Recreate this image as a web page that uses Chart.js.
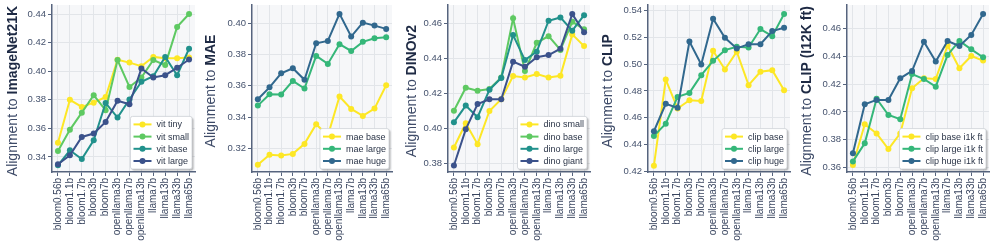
<!DOCTYPE html>
<html>
<head>
<meta charset="utf-8">
<script src="https://cdn.jsdelivr.net/npm/chart.js@4.4.0/dist/chart.umd.min.js"></script>
<style>
html, body { margin: 0; padding: 0; background: #fff; }
#wrap { position: relative; width: 996px; height: 251px; }
.panel { position: absolute; top: 0; height: 251px; }
</style>
</head>
<body>
<div id="wrap">
  <div class="panel" style="left:0px"><canvas id="c1" width="198" height="251"></canvas></div>
  <div class="panel" style="left:198px"><canvas id="c2" width="197" height="251"></canvas></div>
  <div class="panel" style="left:395px"><canvas id="c3" width="198" height="251"></canvas></div>
  <div class="panel" style="left:593px"><canvas id="c4" width="200" height="251"></canvas></div>
  <div class="panel" style="left:793px"><canvas id="c5" width="199" height="251"></canvas></div>
</div>
<script>
// language models on the x axis
const models = ['bloom0.56b', 'bloom1.1b', 'bloom1.7b', 'bloom3b', 'bloom7b', 'openllama3b',
    'openllama7b', 'openllama13b', 'llama7b', 'llama13b', 'llama33b', 'llama65b'];

// ImageNet21K
const vitTiny  = [0.350, 0.380, 0.375, 0.378, 0.382, 0.408, 0.406, 0.4035, 0.410, 0.409, 0.409, 0.4095];
const vitSmall = [0.3442, 0.359, 0.371, 0.3832, 0.3727, 0.4078, 0.389, 0.3956, 0.4078, 0.4043, 0.431, 0.440];
const vitBase  = [0.3342, 0.3447, 0.3386, 0.3517, 0.3778, 0.3676, 0.3802, 0.3926, 0.3965, 0.410, 0.3972, 0.4157];
const vitLarge = [0.3349, 0.3412, 0.354, 0.3564, 0.3645, 0.3793, 0.3769, 0.4019, 0.3956, 0.3972, 0.4024, 0.4082];

// MAE
const maeBase  = [0.3094, 0.3158, 0.3154, 0.3164, 0.3228, 0.3354, 0.328, 0.3531, 0.3452, 0.3407, 0.3454, 0.3603];
const maeLarge = [0.3473, 0.3546, 0.3544, 0.3631, 0.3582, 0.3791, 0.374, 0.3866, 0.3823, 0.3881, 0.3904, 0.391];
const maeHuge  = [0.3514, 0.359, 0.368, 0.3712, 0.3638, 0.3872, 0.3887, 0.406, 0.3915, 0.4004, 0.3985, 0.3964];

// DINOv2
const dinoSmall = [0.389, 0.4029, 0.3909, 0.4099, 0.4166, 0.4299, 0.4291, 0.431, 0.4291, 0.430, 0.4537, 0.447];
const dinoBase  = [0.410, 0.4232, 0.4215, 0.4225, 0.429, 0.4629, 0.4327, 0.4489, 0.4527, 0.4448, 0.4609, 0.4567];
const dinoLarge = [0.4034, 0.413, 0.4063, 0.422, 0.4288, 0.4533, 0.439, 0.4438, 0.4615, 0.4634, 0.4558, 0.4647];
const dinoGiant = [0.3787, 0.3994, 0.4139, 0.4166, 0.4166, 0.4381, 0.4352, 0.4406, 0.4419, 0.4455, 0.4653, 0.4549];

// CLIP
const clipBase  = [0.424, 0.4885, 0.4668, 0.473, 0.4725, 0.510, 0.496, 0.5093, 0.4843, 0.4943, 0.4955, 0.4805];
const clipLarge = [0.4463, 0.4555, 0.4755, 0.4785, 0.4918, 0.5025, 0.5105, 0.513, 0.5125, 0.5263, 0.521, 0.5375];
const clipHuge  = [0.4498, 0.4703, 0.4673, 0.517, 0.4998, 0.534, 0.5198, 0.5118, 0.515, 0.515, 0.5248, 0.5273];

// CLIP finetuned
const clipBaseFt  = [0.3619, 0.3911, 0.3846, 0.3734, 0.3846, 0.4169, 0.4241, 0.4236, 0.4476, 0.4313, 0.4401, 0.4368];
const clipLargeFt = [0.3645, 0.3775, 0.4095, 0.3978, 0.3947, 0.4272, 0.4236, 0.4181, 0.4409, 0.4509, 0.4449, 0.4392];
const clipHugeFt  = [0.3703, 0.4055, 0.4086, 0.4086, 0.4241, 0.4294, 0.4504, 0.4361, 0.4509, 0.4473, 0.4552, 0.4703];

// y tick labels
const imagenetTicks = [0.34, 0.36, 0.38, 0.40, 0.42, 0.44];
const maeTicks = [0.32, 0.34, 0.36, 0.38, 0.40];
const dinoTicks = [0.38, 0.40, 0.42, 0.44, 0.46];
const clipTicks = [0.42, 0.44, 0.46, 0.48, 0.50, 0.52, 0.54];
const clipFtTicks = [0.36, 0.38, 0.40, 0.42, 0.44, 0.46];

const FONT = '"Liberation Sans", Arial, sans-serif';
const axisColor = '#56647e';
const gridColor = '#e2e5e9';
const four = ['#fde725', '#5ec962', '#21918c', '#3b528b'];
const three = ['#fde725', '#35b779', '#31688e'];

// light plot background
const plotBg = {
    id: 'plotBg',
    beforeDraw(chart) {
        const {ctx, chartArea: a} = chart;
        ctx.save();
        ctx.fillStyle = '#f6f7f9';
        ctx.fillRect(a.left, a.top, a.right - a.left, a.bottom - a.top);
        ctx.restore();
    }
};

// y title with a bold part
const yTitle = {
    id: 'yTitle',
    afterDraw(chart, args, o) {
        const {ctx, chartArea: a} = chart;
        ctx.save();
        ctx.translate(o.x, (a.top + a.bottom) / 2 + 2.5);
        ctx.rotate(-Math.PI / 2);
        ctx.textBaseline = 'middle';
        ctx.textAlign = 'left';
        ctx.font = '14px ' + FONT;
        const w1 = ctx.measureText(o.text).width;
        ctx.font = 'bold 14px ' + FONT;
        const w2 = ctx.measureText(o.bold).width;
        const x0 = -(w1 + w2) / 2;
        ctx.font = '14px ' + FONT;
        ctx.fillStyle = '#3e4b68';
        ctx.fillText(o.text, x0, 0);
        ctx.font = 'bold 14px ' + FONT;
        ctx.fillStyle = '#1e2a44';
        ctx.fillText(o.bold, x0 + w1, 0);
        ctx.restore();
    }
};

// legend box in the lower right corner
const boxLegend = {
    id: 'boxLegend',
    afterDatasetsDraw(chart) {
        const {ctx, chartArea: a} = chart;
        const sets = chart.data.datasets;
        ctx.save();
        ctx.font = '9px ' + FONT;
        const tw = Math.max(...sets.map(d => ctx.measureText(d.label).width));
        const rowH = 12.2, lineW = 18;
        const w = 3 + lineW + 5 + tw + 3;
        const h = 16 + (sets.length - 1) * rowH;
        const x = a.right - 3 - w, y = a.bottom - 3 - h;
        ctx.shadowColor = 'rgba(0,0,0,0.28)';
        ctx.shadowOffsetX = 1.5;
        ctx.shadowOffsetY = 1.5;
        ctx.shadowBlur = 1.5;
        ctx.fillStyle = '#fff';
        ctx.beginPath();
        ctx.roundRect(x, y, w, h, 2);
        ctx.fill();
        ctx.shadowColor = 'transparent';
        ctx.strokeStyle = '#cdd1d6';
        ctx.lineWidth = 0.8;
        ctx.stroke();
        sets.forEach((d, i) => {
            const cy = y + 8 + i * rowH;
            ctx.strokeStyle = d.borderColor;
            ctx.lineWidth = 2;
            ctx.beginPath();
            ctx.moveTo(x + 3, cy);
            ctx.lineTo(x + 3 + lineW, cy);
            ctx.stroke();
            ctx.fillStyle = d.borderColor;
            ctx.beginPath();
            ctx.arc(x + 3 + lineW / 2, cy, 3, 0, Math.PI * 2);
            ctx.fill();
            ctx.fillStyle = '#2b3548';
            ctx.textBaseline = 'middle';
            ctx.fillText(d.label, x + 3 + lineW + 5, cy + 0.5);
        });
        ctx.restore();
    }
};

const makePanel = function (id, series, names, colors, ticks, min, max, left, titleX, title, bold) {
    const datasets = [];
    for (var i = 0; i < series.length; i++) {
        datasets.push({
            label: names[i],
            data: series[i],
            borderColor: colors[i],
            backgroundColor: colors[i],
            borderWidth: 2,
            pointRadius: 3,
            pointHoverRadius: 3,
            pointBorderWidth: 0,
            tension: 0,
            order: series.length - i
        });
    }
    return new Chart(document.getElementById(id), {
        type: 'line',
        data: {labels: models, datasets: datasets},
        options: {
            responsive: false,
            animation: false,
            devicePixelRatio: 1,
            layout: {padding: {top: 5, right: 2, left: 0, bottom: 0}},
            scales: {
                x: {
                    offset: true,
                    grid: {color: gridColor, offset: false, tickLength: 4, tickColor: axisColor},
                    border: {color: axisColor, width: 1.5},
                    ticks: {
                        minRotation: 90, maxRotation: 90, autoSkip: false, padding: 2,
                        color: '#3a4660', font: {size: 10, family: FONT}
                    },
                    afterFit: function (s) {
                        s.height = 79;
                        s.paddingLeft = 0;
                        s.paddingRight = 0;
                    }
                },
                y: {
                    min: min,
                    max: max,
                    afterBuildTicks: function (s) {
                        s.ticks = ticks.map(v => ({value: v}));
                    },
                    grid: {color: gridColor, tickLength: 4, tickColor: axisColor},
                    border: {color: axisColor, width: 1.5},
                    ticks: {
                        padding: 2, color: '#45526d', font: {size: 9.5, family: FONT},
                        callback: v => v.toFixed(2)
                    },
                    afterFit: function (s) {
                        s.width = left;
                        s.paddingTop = 0;
                        s.paddingBottom = 0;
                    }
                }
            },
            plugins: {
                legend: {display: false},
                tooltip: {enabled: false},
                yTitle: {x: titleX, text: 'Alignment to ', bold: bold}
            }
        },
        plugins: [plotBg, yTitle, boxLegend]
    });
};

makePanel('c1', [vitTiny, vitSmall, vitBase, vitLarge], ['vit tiny', 'vit small', 'vit base', 'vit large'],
    four, imagenetTicks, 0.3295, 0.4463, 52, 13, 'Alignment to ', 'ImageNet21K');
makePanel('c2', [maeBase, maeLarge, maeHuge], ['mae base', 'mae large', 'mae huge'],
    three, maeTicks, 0.3048, 0.4117, 54, 13, 'Alignment to ', 'MAE');
makePanel('c3', [dinoSmall, dinoBase, dinoLarge, dinoGiant], ['dino small', 'dino base', 'dino large', 'dino giant'],
    four, dinoTicks, 0.375, 0.4705, 53, 17, 'Alignment to ', 'DINOv2');
makePanel('c4', [clipBase, clipLarge, clipHuge], ['clip base', 'clip large', 'clip huge'],
    three, clipTicks, 0.4193, 0.5443, 55, 15, 'Alignment to ', 'CLIP');
makePanel('c5', [clipBaseFt, clipLargeFt, clipHugeFt], ['clip base i1k ft', 'clip large i1k ft', 'clip huge i1k ft'],
    three, clipFtTicks, 0.3569, 0.4767, 54, 14, 'Alignment to ', 'CLIP (I12K ft)');
</script>
</body>
</html>
